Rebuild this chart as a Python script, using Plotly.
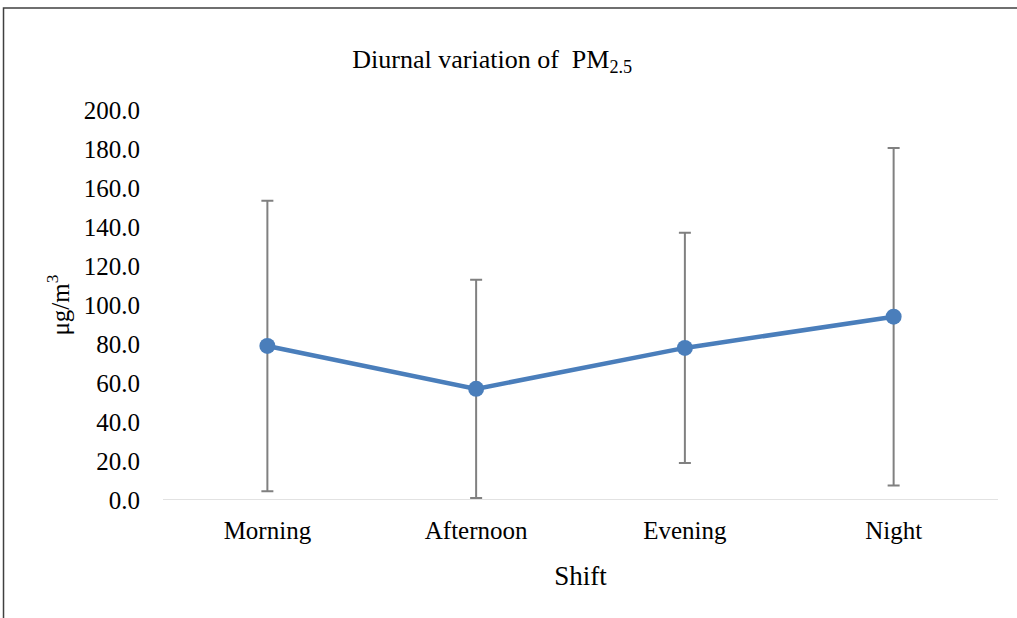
import plotly.graph_objects as go

shifts = ["Morning", "Afternoon", "Evening", "Night"]
pm25_mean = [79.0, 57.0, 78.0, 94.0]
pm25_sd = [74.5, 56.0, 59.0, 86.5]
y_ticks = [0, 20, 40, 60, 80, 100, 120, 140, 160, 180, 200]

FONT = "Liberation Serif"

fig = go.Figure()
fig.add_trace(go.Scatter(
    x=shifts, y=pm25_mean, mode="lines+markers",
    line=dict(color="#4a7ebb", width=4.5),
    marker=dict(color="#4a7ebb", size=16),
    error_y=dict(type="data", array=pm25_sd, visible=True,
                 color="#808080", thickness=2, width=6),
    showlegend=False,
))

fig.update_layout(
    width=1017, height=618,
    margin=dict(l=163, r=19, t=110, b=118),
    paper_bgcolor="white", plot_bgcolor="white",
    font=dict(family=FONT, size=25, color="#000000"),
    title=dict(text="Diurnal variation of  PM<sub>2.5</sub>", x=0.484, xanchor="center",
               y=0.905, yanchor="middle", font=dict(family=FONT, size=26)),
    xaxis=dict(
        range=[-0.5, 3.5],
        showgrid=False, showline=False, zeroline=False, ticks="",
        tickfont=dict(family=FONT, size=25),
        title=dict(text="Shift", font=dict(family=FONT, size=27), standoff=23),
        ticklabelstandoff=13,
    ),
    yaxis=dict(
        range=[0, 200], tickvals=y_ticks, tickformat=".1f",
        showgrid=False, showline=False, zeroline=False, ticks="",
        tickfont=dict(family=FONT, size=25),
        title=dict(text="μg/m<sup>3</sup>", font=dict(family=FONT, size=25), standoff=7),
        ticklabelstandoff=22,
    ),
    shapes=[
        dict(type="line", xref="paper", yref="y", x0=0, x1=1, y0=0, y1=0,
             line=dict(color="#d9d9d9", width=1.5), layer="below"),
        dict(type="rect", xref="paper", yref="paper", x0=-0.191, x1=1.2,
             y0=-1.0, y1=1.2615, line=dict(color="#404040", width=1.5)),
    ],
)

fig.write_html("out.html", config={"displayModeBar": False},
               post_script="document.body.style.margin='0';")
